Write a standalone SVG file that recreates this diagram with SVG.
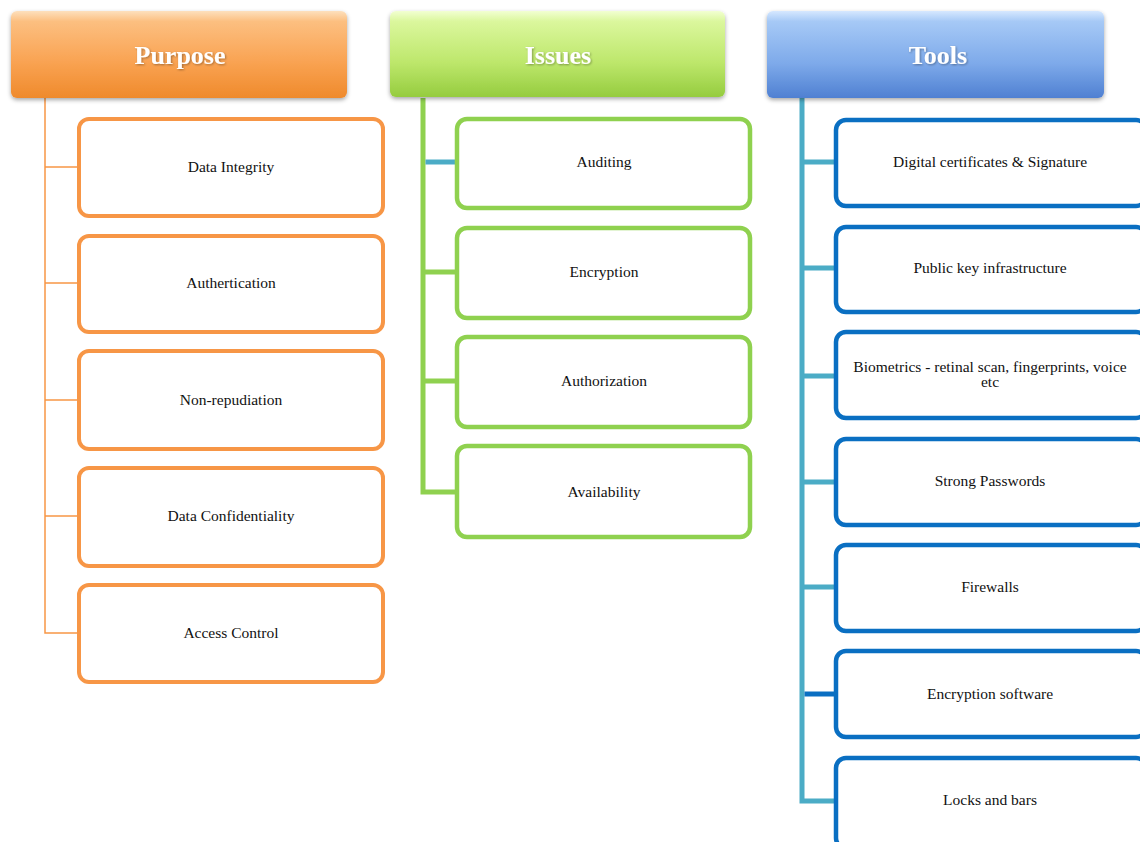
<svg xmlns="http://www.w3.org/2000/svg" width="1140" height="842" viewBox="0 0 1140 842">
<defs>
<linearGradient id="gO" x1="0" y1="0" x2="0" y2="1"><stop offset="0" stop-color="#fde0bd"/><stop offset="0.12" stop-color="#fcbf80"/><stop offset="0.6" stop-color="#f9a251"/><stop offset="1" stop-color="#ef8a2c"/></linearGradient>
<linearGradient id="gG" x1="0" y1="0" x2="0" y2="1"><stop offset="0" stop-color="#f2ffd2"/><stop offset="0.12" stop-color="#dbf79d"/><stop offset="0.6" stop-color="#bde76b"/><stop offset="1" stop-color="#95cc3f"/></linearGradient>
<linearGradient id="gB" x1="0" y1="0" x2="0" y2="1"><stop offset="0" stop-color="#d6e8ff"/><stop offset="0.12" stop-color="#a6c9f6"/><stop offset="0.6" stop-color="#7eaaea"/><stop offset="1" stop-color="#4f80d2"/></linearGradient>
<filter id="sh" x="-5%" y="-10%" width="110%" height="130%"><feDropShadow dx="0" dy="2" stdDeviation="2" flood-color="#000" flood-opacity="0.35"/></filter>
<filter id="ts" x="-10%" y="-20%" width="120%" height="150%"><feDropShadow dx="1" dy="1" stdDeviation="0.8" flood-color="#000" flood-opacity="0.35"/></filter>
</defs>
<style>
.hdr{font-family:"Liberation Serif","Times New Roman",serif;font-weight:bold;font-size:26px;fill:#fff;text-anchor:middle}
.lbl{font-family:"Liberation Serif","Times New Roman",serif;font-size:15.5px;fill:#111;text-anchor:middle}
.bo{fill:#fff;stroke:#f79646;stroke-width:4}
.bg{fill:#fff;stroke:#8fd14f;stroke-width:4.5}
.bb{fill:#fff;stroke:#0a6fc2;stroke-width:4.5}
.co{fill:none;stroke:#f79646;stroke-width:1.5}
.cg{fill:none;stroke:#8fd14f;stroke-width:5}
.ct{fill:none;stroke:#4bacc6;stroke-width:5}
.cd{fill:none;stroke:#0a6fc2;stroke-width:5}
</style>
<g id="connectors">
<path class="co" d="M45 98V633H79M45 167H79M45 283H79M45 400H79M45 516H79"/>
<path class="cg" d="M423 98V492H457M423 272H457M423 381H457"/>
<path class="ct" d="M425.5 162H457"/>
<path class="ct" d="M802 98V801H836M802 162H836M802 268H836M802 376H836M802 482H836M802 587H836"/>
<path class="cd" d="M804.5 694H836"/>
</g>
<g id="purpose"><rect x="11" y="11" width="336" height="87" rx="6" fill="url(#gO)" filter="url(#sh)"/><text class="hdr" x="180" y="64" filter="url(#ts)">Purpose</text></g>
<g id="issues"><rect x="390" y="11" width="335" height="86" rx="6" fill="url(#gG)" filter="url(#sh)"/><text class="hdr" x="558" y="64" filter="url(#ts)">Issues</text></g>
<g id="tools"><rect x="767" y="11" width="337" height="87" rx="6" fill="url(#gB)" filter="url(#sh)"/><text class="hdr" x="938" y="64" filter="url(#ts)">Tools</text></g>

<g id="p1"><rect class="bo" x="79" y="119" width="304" height="97" rx="10"/><text class="lbl" x="231" y="172">Data Integrity</text></g>
<g id="p2"><rect class="bo" x="79" y="236" width="304" height="96" rx="10"/><text class="lbl" x="231" y="288">Authertication</text></g>
<g id="p3"><rect class="bo" x="79" y="351" width="304" height="98" rx="10"/><text class="lbl" x="231" y="405">Non-repudiation</text></g>
<g id="p4"><rect class="bo" x="79" y="468" width="304" height="98" rx="10"/><text class="lbl" x="231" y="521">Data Confidentiality</text></g>
<g id="p5"><rect class="bo" x="79" y="585" width="304" height="97" rx="10"/><text class="lbl" x="231" y="638">Access Control</text></g>

<g id="i1"><rect class="bg" x="457" y="119" width="293" height="89" rx="10"/><text class="lbl" x="604" y="167">Auditing</text></g>
<g id="i2"><rect class="bg" x="457" y="228" width="293" height="90" rx="10"/><text class="lbl" x="604" y="277">Encryption</text></g>
<g id="i3"><rect class="bg" x="457" y="337" width="293" height="90" rx="10"/><text class="lbl" x="604" y="386">Authorization</text></g>
<g id="i4"><rect class="bg" x="457" y="446" width="293" height="91" rx="10"/><text class="lbl" x="604" y="497">Availability</text></g>

<g id="t1"><rect class="bb" x="836" y="120" width="310" height="86" rx="10"/><text class="lbl" x="990" y="167">Digital certificates &amp; Signature</text></g>
<g id="t2"><rect class="bb" x="836" y="227" width="310" height="85" rx="10"/><text class="lbl" x="990" y="273">Public key infrastructure</text></g>
<g id="t3"><rect class="bb" x="836" y="332" width="310" height="86" rx="10"/><text class="lbl" x="990" y="372">Biometrics - retinal scan, fingerprints, voice</text><text class="lbl" x="990" y="387">etc</text></g>
<g id="t4"><rect class="bb" x="836" y="439" width="310" height="86" rx="10"/><text class="lbl" x="990" y="486">Strong Passwords</text></g>
<g id="t5"><rect class="bb" x="836" y="545" width="310" height="86" rx="10"/><text class="lbl" x="990" y="592">Firewalls</text></g>
<g id="t6"><rect class="bb" x="836" y="651" width="310" height="86" rx="10"/><text class="lbl" x="990" y="699">Encryption software</text></g>
<g id="t7"><rect class="bb" x="836" y="758" width="310" height="90" rx="10"/><text class="lbl" x="990" y="805">Locks and bars</text></g>
</svg>
